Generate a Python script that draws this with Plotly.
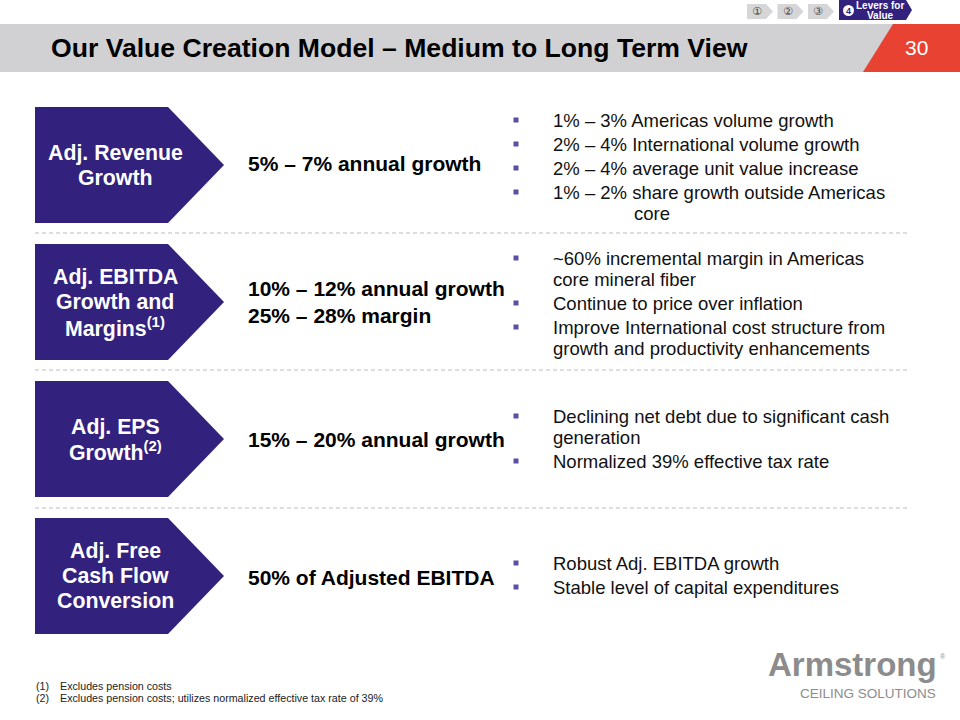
import plotly.graph_objects as go

# ---------------- data ----------------
title = "Our Value Creation Model – Medium to Long Term View"
page_number = "30"
nav_steps = ["①", "②", "③"]
nav_active = ["4", "Levers for", "Value"]

box_labels = [
    ["Adj. Revenue", "Growth"],
    ["Adj. EBITDA", "Growth and", "Margins<sup>(1)</sup>"],
    ["Adj. EPS", "Growth<sup>(2)</sup>"],
    ["Adj. Free", "Cash Flow", "Conversion"],
]
headlines = [
    ["5% – 7% annual growth"],
    ["10% – 12% annual growth", "25% – 28% margin"],
    ["15% – 20% annual growth"],
    ["50% of Adjusted EBITDA"],
]
bullets = [
    [["1% – 3% Americas volume growth"],
     ["2% – 4% International volume growth"],
     ["2% – 4% average unit value increase"],
     ["1% – 2% share growth outside Americas", "core"]],
    [["~60% incremental margin in Americas", "core mineral fiber"],
     ["Continue to price over inflation"],
     ["Improve International cost structure from", "growth and productivity enhancements"]],
    [["Declining net debt due to significant cash", "generation"],
     ["Normalized 39% effective tax rate"]],
    [["Robust Adj. EBITDA growth"],
     ["Stable level of capital expenditures"]],
]
footnotes = [("(1)", "Excludes pension costs"),
             ("(2)", "Excludes pension costs; utilizes normalized effective tax rate of 39%")]
logo_main = "Armstrong"
logo_sub = "CEILING SOLUTIONS"

# ---------------- layout constants ----------------
PURPLE = "#33217E"
BULLET = "#5A4FA3"
GRAY_BAR = "#D1D1D3"
RED = "#E84232"
FONT = "Liberation Sans, Arial, sans-serif"

box_tops = [107, 244, 381, 518]
box_h = 116
box_left, box_rect_r, box_tip = 35, 168, 224
sep_ys = [233, 370, 508]
headline_ys = [[163], [288, 315], [439], [577]]
bullet_start = [120, 258, 416, 563]
label_line_gap = 25
bullet_gap, wrap_gap = 24, 21

fig = go.Figure()
shapes, ann = [], []

def add_text(x, y, text, size, color="black", bold=False, xanchor="left", family=FONT):
    if bold:
        text = "<b>" + text + "</b>"
    ann.append(dict(x=x, y=y, xref="x", yref="y", text=text, showarrow=False,
                    xanchor=xanchor, yanchor="middle",
                    font=dict(family=family, size=size, color=color)))

# title bar
shapes.append(dict(type="rect", x0=0, x1=893, y0=24, y1=72, fillcolor=GRAY_BAR,
                   line=dict(width=0), layer="below"))
shapes.append(dict(type="path", path="M 893 24 L 960 24 L 960 72 L 863 72 Z",
                   fillcolor=RED, line=dict(width=0), layer="below"))
add_text(49, 48, title, 26.6, bold=True)
add_text(916, 47, page_number, 21, color="white", xanchor="center")

# navigation chevrons
for i, s in enumerate(nav_steps):
    x0 = 747 + i * 30.5
    shapes.append(dict(type="path",
                       path=f"M {x0} 4 L {x0+19} 4 L {x0+26} 11.5 L {x0+19} 19 L {x0} 19 Z",
                       fillcolor="#D6D6D8", line=dict(width=0)))
    add_text(x0 + 10, 11.5, s, 11, color="#444444", xanchor="center",
             family="DejaVu Sans, sans-serif")
shapes.append(dict(type="path", path="M 839 0 L 906 0 L 912 10 L 906 20 L 839 20 Z",
                   fillcolor=PURPLE, line=dict(width=0)))
shapes.append(dict(type="circle", x0=843, x1=854, y0=5, y1=16, fillcolor="white",
                   line=dict(width=0)))
add_text(848.5, 10.5, nav_active[0], 9, color=PURPLE, bold=True, xanchor="center")
add_text(880, 5, nav_active[1], 10, color="white", bold=True, xanchor="center")
add_text(880, 15, nav_active[2], 10, color="white", bold=True, xanchor="center")

# separators
for y in sep_ys:
    shapes.append(dict(type="line", x0=35, x1=910, y0=y, y1=y,
                       line=dict(color="#BDBDBD", width=1, dash="4px,3px")))

# boxes, headlines, bullets
bx, by = [], []
for i, top in enumerate(box_tops):
    bot = top + box_h
    mid = top + box_h / 2
    shapes.append(dict(type="path",
                       path=f"M {box_left} {top} L {box_rect_r} {top} L {box_tip} {mid} "
                            f"L {box_rect_r} {bot} L {box_left} {bot} Z",
                       fillcolor=PURPLE, line=dict(width=0)))
    lines = box_labels[i]
    n = len(lines)
    for j, ln in enumerate(lines):
        y = mid + (j - (n - 1) / 2) * label_line_gap
        add_text(115, y, ln, 21.3, color="white", bold=True, xanchor="center")
    for ln, y in zip(headlines[i], headline_ys[i]):
        add_text(246, y, ln, 21, bold=True)
    y = bullet_start[i]
    for k, b in enumerate(bullets[i]):
        if k > 0:
            y += bullet_gap
        bx.append(516)
        by.append(y)
        for m, ln in enumerate(b):
            if m > 0:
                y += wrap_gap
            indent = 632 if (i == 0 and m > 0) else 551
            add_text(indent, y, ln, 18.5, color="#111111")

fig.add_trace(go.Scatter(x=bx, y=by, mode="markers", hoverinfo="skip",
                         marker=dict(symbol="square", size=5, color=BULLET)))

# footnotes
for k, (num, txt) in enumerate(footnotes):
    y = 686 + k * 12
    add_text(34, y, num, 10.7, color="#222222")
    add_text(58, y, txt, 10.7, color="#222222")

# logo
add_text(852, 664, logo_main, 33, color="#8C8C8C", bold=True, xanchor="center")
add_text(938, 656, "®", 7, color="#8C8C8C", xanchor="left")
add_text(868, 693, logo_sub, 13.5, color="#8C8C8C", xanchor="center")

fig.update_layout(
    width=960, height=720, margin=dict(l=0, r=0, t=0, b=0),
    paper_bgcolor="white", plot_bgcolor="white", showlegend=False,
    xaxis=dict(range=[0, 960], visible=False, fixedrange=True),
    yaxis=dict(range=[720, 0], visible=False, fixedrange=True),
    shapes=shapes, annotations=ann,
)
fig.write_html("out.html", config={"displayModeBar": False},
               post_script="document.body.style.margin='0px';document.body.style.overflow='hidden';")
